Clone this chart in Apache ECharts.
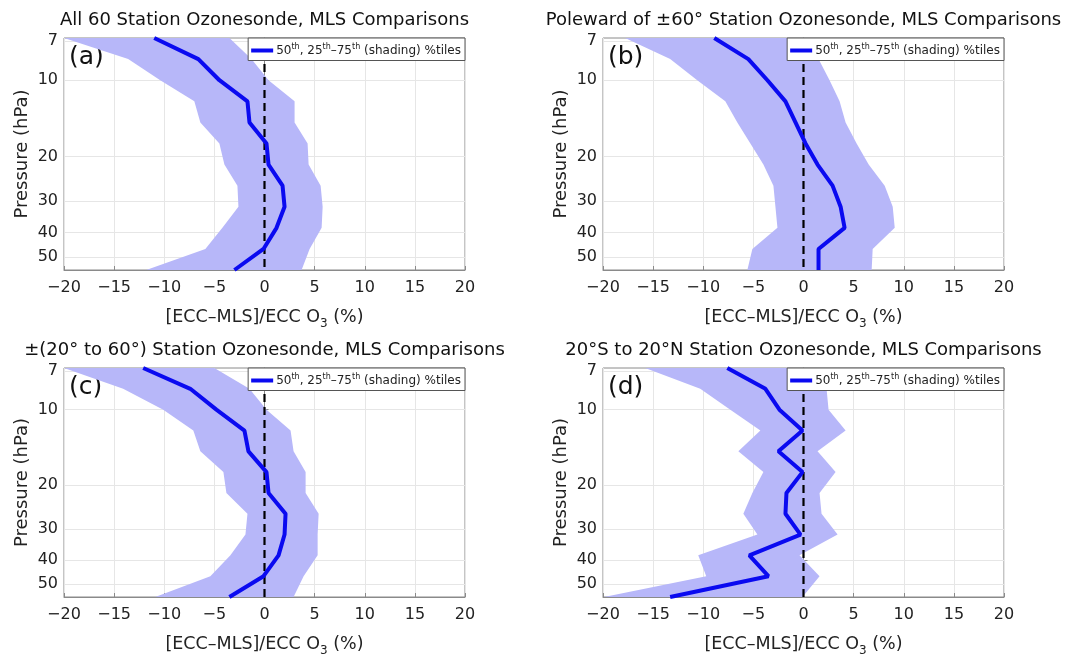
<!DOCTYPE html>
<html>
<head>
<meta charset="utf-8">
<script src="https://cdn.jsdelivr.net/npm/echarts@6/dist/echarts.min.js"></script>
<style>html,body{margin:0;padding:0;background:#fff;}#c{width:1088px;height:658px;}</style>
</head>
<body>
<div id="c"></div>
<script>
// MLS pressure levels (hPa)
const levels = [6.81, 8.25, 10, 12.12, 14.68, 17.78, 21.54, 26.10, 31.62, 38.31, 46.42, 56.23];
const yTicks = [7, 10, 20, 30, 40, 50];
const xTicks = [-20, -15, -10, -5, 0, 5, 10, 15, 20];

const titles = [
  'All 60 Station Ozonesonde, MLS Comparisons',
  'Poleward of \u00b160\u00b0 Station Ozonesonde, MLS Comparisons',
  '\u00b1(20\u00b0 to 60\u00b0) Station Ozonesonde, MLS Comparisons',
  '20\u00b0S to 20\u00b0N Station Ozonesonde, MLS Comparisons'
];
const panelLabels = ['(a)', '(b)', '(c)', '(d)'];

// (a) all stations
const medA = [-11.0, -6.6, -4.5, -1.7, -1.5, 0.2, 0.4, 1.8, 2.0, 1.2, -0.1, -3.0];
const p25A = [-20.0, -13.6, -10.4, -7.0, -6.4, -4.5, -4.0, -2.7, -2.6, -4.2, -5.9, -11.8];
const p75A = [-3.5, -1.3, 0.4, 3.0, 3.0, 4.3, 4.4, 5.6, 5.8, 5.7, 4.5, 3.7];

// (b) poleward of +-60
const medB = [-8.9, -5.5, -3.6, -1.8, -0.8, 0.2, 1.4, 2.9, 3.7, 4.1, 1.5, 1.5];
const p25B = [-17.8, -13.3, -10.6, -7.8, -6.6, -5.3, -4.0, -3.0, -2.8, -2.6, -5.1, -5.6];
const p75B = [0.0, 1.5, 2.6, 3.6, 4.2, 5.3, 6.5, 8.1, 8.9, 9.1, 6.9, 6.8];

// (c) +-(20 to 60)
const medC = [-12.1, -7.4, -4.8, -2.0, -1.6, 0.2, 0.4, 2.1, 2.0, 1.4, -0.1, -3.5];
const p25C = [-20.0, -14.1, -10.1, -7.1, -6.4, -4.1, -3.8, -1.7, -1.9, -3.4, -5.4, -10.9];
const p75C = [-5.0, -1.5, 0.2, 2.6, 2.9, 4.1, 4.1, 5.4, 5.3, 5.3, 3.9, 2.9];

// (d) 20S to 20N
const medD = [-7.6, -3.8, -2.4, -0.1, -2.5, -0.1, -1.7, -1.8, -0.3, -5.4, -3.5, -13.3];
const p25D = [-15.8, -10.3, -7.3, -4.3, -6.5, -4.0, -5.1, -6.0, -4.6, -10.5, -9.7, -19.9];
const p75D = [2.2, 2.3, 2.5, 4.2, 1.4, 3.2, 1.6, 1.8, 3.4, -0.4, 1.6, -0.1];

const panels = [
  {med: medA, lo: p25A, hi: p75A},
  {med: medB, lo: p25B, hi: p75B},
  {med: medC, lo: p25C, hi: p75C},
  {med: medD, lo: p25D, hi: p75D}
];

const gridPos = [
  {left: 64, top: 38}, {left: 603, top: 38},
  {left: 64, top: 368}, {left: 603, top: 368}
];
const GW = 401, GH = 232;
const FONT = 'DejaVu Sans';

const grids = [], xAxes = [], yAxes = [], series = [], legends = [], graphics = [];

panels.forEach((pn, k) => {
  const g = gridPos[k];
  grids.push({left: g.left, top: g.top, width: GW, height: GH, show: true,
    borderColor: '#8a8a8a', borderWidth: 1, backgroundColor: 'transparent'});
  xAxes.push({
    type: 'value', gridIndex: k, min: -20, max: 20, interval: 5,
    name: '[ECC\u2013MLS]/ECC O{sub|3} (%)', nameLocation: 'middle', nameGap: 35,
    nameTextStyle: {fontFamily: FONT, fontSize: 17.5, color: '#222',
      rich: {sub: {fontFamily: FONT, fontSize: 12, color: '#222', padding: [13, 0, 0, 0]}}},
    axisLine: {show: true, lineStyle: {color: '#8a8a8a', width: 1}},
    axisTick: {show: true, inside: true, length: 4, lineStyle: {color: '#8a8a8a'}},
    axisLabel: {fontFamily: FONT, fontSize: 16, color: '#222', margin: 10,
      formatter: v => String(v).replace('-', '\u2212')},
    splitLine: {show: true, lineStyle: {color: '#e6e6e6', width: 1}}
  });
  yAxes.push({
    type: 'log', gridIndex: k, min: levels[0], max: levels[levels.length - 1], inverse: true,
    name: 'Pressure (hPa)', nameLocation: 'middle', nameGap: 33, nameRotate: 90,
    nameTextStyle: {fontFamily: FONT, fontSize: 18, color: '#222'},
    axisLine: {show: true, lineStyle: {color: '#8a8a8a', width: 1}},
    axisTick: {show: true, inside: true, length: 4, lineStyle: {color: '#8a8a8a'}, customValues: yTicks},
    axisLabel: {fontFamily: FONT, fontSize: 16, color: '#222', margin: 6, customValues: yTicks,
      formatter: v => String(Math.round(v))},
    splitLine: {show: true, lineStyle: {color: '#e6e6e6', width: 1}},
    minorSplitLine: {show: false}
  });
  const lo = pn.lo, hi = pn.hi;
  series.push({
    type: 'custom', name: 'band' + k, xAxisIndex: k, yAxisIndex: k, clip: true, z: 1, silent: true,
    data: levels.map((p, i) => [lo[i], hi[i], p]),
    encode: {x: [0, 1], y: 2},
    renderItem: (params, api) => {
      if (params.dataIndex !== 0) return null;
      const pts = [];
      for (let i = 0; i < levels.length; i++) pts.push(api.coord([lo[i], levels[i]]));
      for (let i = levels.length - 1; i >= 0; i--) pts.push(api.coord([hi[i], levels[i]]));
      return {type: 'polygon', shape: {points: pts}, style: {fill: '#b7b7f9', stroke: null}};
    }
  });
  series.push({
    type: 'line', name: 'zero' + k, xAxisIndex: k, yAxisIndex: k, z: 3, silent: true,
    data: [[0, levels[0]], [0, levels[levels.length - 1]]], symbol: 'none',
    lineStyle: {color: '#000', width: 2.2, type: [8, 5]}
  });
  series.push({
    type: 'line', name: 'med' + k, xAxisIndex: k, yAxisIndex: k, z: 4, silent: true,
    data: levels.map((p, i) => [pn.med[i], p]), symbol: 'none',
    lineStyle: {color: '#0a0af0', width: 4}, itemStyle: {color: '#0a0af0'}
  });
  legends.push({
    data: [{name: 'med' + k, icon: 'rect'}], selectedMode: false,
    right: 1088 - (g.left + GW), top: g.top, orient: 'horizontal',
    itemWidth: 22, itemHeight: 4, itemGap: 4,
    padding: [5, 4, 4, 3], borderColor: '#555', borderWidth: 1, backgroundColor: '#fff',
    formatter: () => '50{sup|th}, 25{sup|th}\u201375{sup|th} (shading) %tiles',
    textStyle: {fontFamily: FONT, fontSize: 12, color: '#222', padding: [0, 0, 0, -2],
      rich: {sup: {fontFamily: FONT, fontSize: 8, color: '#222', padding: [0, 0, 7, 0]}}}
  });
  graphics.push({
    type: 'text', x: g.left + GW / 2, y: g.top - 27,
    style: {text: titles[k], fontFamily: FONT, fontSize: 18, fill: '#111', align: 'center', verticalAlign: 'top'}
  });
  graphics.push({
    type: 'text', x: g.left + 5, y: g.top + 7,
    style: {text: panelLabels[k], fontFamily: FONT, fontSize: 25, fill: '#111', align: 'left', verticalAlign: 'top'}
  });
});

const chart = echarts.init(document.getElementById('c'), null, {renderer: 'canvas'});
chart.setOption({
  animation: false,
  backgroundColor: '#fff',
  grid: grids, xAxis: xAxes, yAxis: yAxes, series: series, legend: legends,
  graphic: graphics
});
</script>
</body>
</html>
